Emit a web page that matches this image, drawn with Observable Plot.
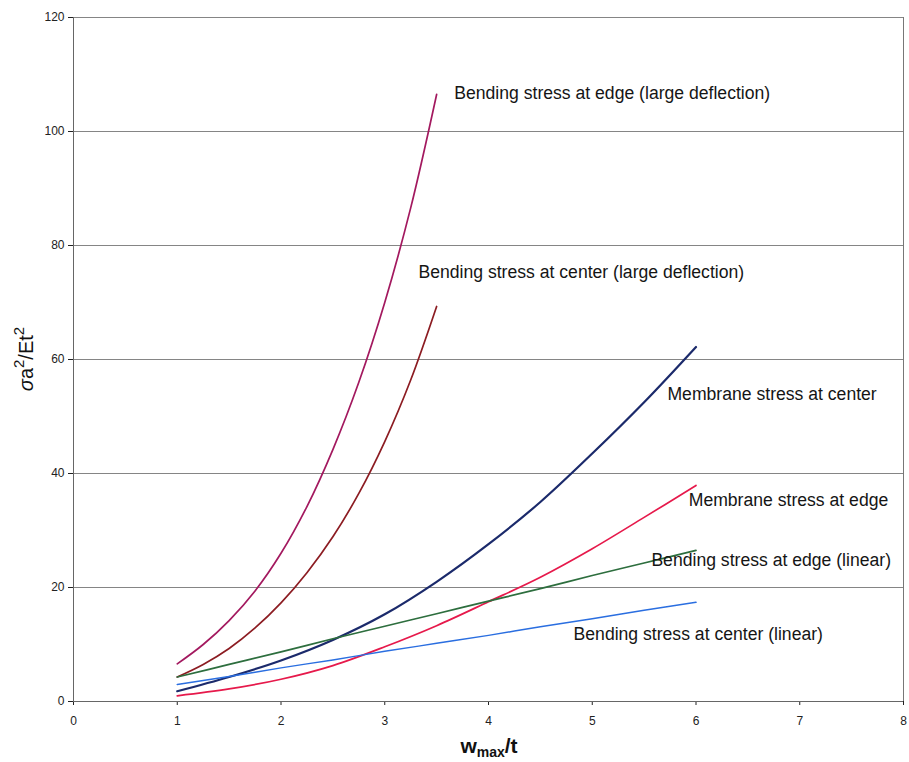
<!DOCTYPE html>
<html>
<head>
<meta charset="utf-8">
<script src="https://cdn.jsdelivr.net/npm/d3@7"></script>
<script src="https://cdn.jsdelivr.net/npm/@observablehq/plot@0.6"></script>
<style>
  html, body { margin: 0; padding: 0; background: #ffffff; }
  #chart svg { display: block; }
</style>
</head>
<body>
<div id="chart"></div>
<script>
// ---- Data ----
const xLarge = [1, 1.25, 1.5, 1.75, 2, 2.25, 2.5, 2.75, 3, 3.25, 3.5];
const bendEdgeLarge   = [6.6, 10.0, 14.2, 19.4, 26.0, 34.2, 44.2, 56.0, 70.0, 86.6, 106.5];
const bendCenterLarge = [4.3, 6.5, 9.3, 12.9, 17.3, 22.6, 28.9, 36.5, 45.6, 56.4, 69.3];

const xMembrane = [1, 1.5, 2, 2.5, 3, 3.5, 4, 4.5, 5, 5.5, 6];
const membraneCenter  = [1.8, 4.3, 7.2, 10.8, 15.3, 21.0, 27.6, 35.0, 43.5, 52.5, 62.2];
const membraneEdge    = [1.0, 2.2, 3.9, 6.3, 9.6, 13.3, 17.5, 21.8, 26.8, 32.3, 37.9];
const bendEdgeLinear  = [4.3, 6.5, 8.7, 11.0, 13.2, 15.4, 17.6, 19.8, 22.1, 24.3, 26.5];
const bendCenterLinear= [3.0, 4.4, 5.9, 7.3, 8.8, 10.2, 11.6, 13.1, 14.5, 16.0, 17.4];

const seriesNames = [
  "Bending stress at edge (large deflection)",
  "Bending stress at center (large deflection)",
  "Membrane stress at center",
  "Membrane stress at edge",
  "Bending stress at edge (linear)",
  "Bending stress at center (linear)"
];
const seriesColors = ["#a3195f", "#8c1c22", "#1b2a6b", "#e6194b", "#2d6e3e", "#2a6ee0"];

// label anchor points (data units) for the in-chart annotations
const labelX = [3.67, 3.325, 5.725, 5.93, 5.57, 4.82];
const labelY = [106.7, 75.3, 53.9, 35.3, 24.7, 11.75];

const xTicks = [0, 1, 2, 3, 4, 5, 6, 7, 8];
const yTicks = [0, 20, 40, 60, 80, 100, 120];

// ---- tidy tables ----
const seriesData = [
  {x: xLarge, y: bendEdgeLarge},
  {x: xLarge, y: bendCenterLarge},
  {x: xMembrane, y: membraneCenter},
  {x: xMembrane, y: membraneEdge},
  {x: xMembrane, y: bendEdgeLinear},
  {x: xMembrane, y: bendCenterLinear}
];
const rows = seriesData.flatMap((s, i) =>
  s.x.map((x, j) => ({series: seriesNames[i], x, y: s.y[j]})));
const labels = seriesNames.map((name, i) => ({name, x: labelX[i], y: labelY[i]}));

const widths = [1.7, 1.7, 2.2, 1.7, 1.7, 1.5];

const chart = Plot.plot({
  width: 909,
  height: 762,
  marginLeft: 73,
  marginRight: 6,
  marginTop: 17,
  marginBottom: 61,
  style: {fontFamily: "Arial, 'Liberation Sans', sans-serif", fontSize: "12px", color: "#222", background: "#ffffff"},
  x: {domain: [0, 8], ticks: xTicks, tickSize: 4, tickPadding: 11, label: null, tickFormat: d => String(d)},
  y: {domain: [0, 120], ticks: yTicks, tickSize: 5, tickPadding: 4, label: null, tickFormat: d => String(d)},
  color: {domain: seriesNames, range: seriesColors},
  marks: [
    Plot.ruleY(yTicks.filter(d => d > 0), {stroke: "#858585", strokeWidth: 1}),
    Plot.ruleX([8], {stroke: "#777", strokeWidth: 1}),
    Plot.ruleX([0], {stroke: "#666", strokeWidth: 1}),
    Plot.ruleY([0], {stroke: "#666", strokeWidth: 1}),
    ...seriesNames.map((name, i) =>
      Plot.line(rows.filter(d => d.series === name), {
        x: "x", y: "y", stroke: seriesColors[i], strokeWidth: widths[i], curve: "catmull-rom"
      })),
    Plot.text(labels, {
      x: "x", y: "y", text: "name", textAnchor: "start", lineAnchor: "middle",
      fontSize: 17.6, fill: "#151515", fontFamily: "Arial, 'Liberation Sans', sans-serif"
    })
  ]
});

document.getElementById("chart").appendChild(chart);

// axis titles with super/subscripts
const svg = d3.select(chart);
const yt = svg.append("text")
  .attr("transform", "translate(33,359) rotate(-90)")
  .attr("text-anchor", "middle")
  .attr("font-family", "Arial, 'Liberation Sans', sans-serif")
  .attr("font-size", 20)
  .attr("fill", "#111");
yt.append("tspan").attr("font-style", "italic").text("σ");
yt.append("tspan").text("a");
yt.append("tspan").attr("font-size", 15).attr("dy", -9).text("2");
yt.append("tspan").attr("dy", 9).text("/Et");
yt.append("tspan").attr("font-size", 15).attr("dy", -9).text("2");

const xt = svg.append("text")
  .attr("x", 489)
  .attr("y", 753)
  .attr("text-anchor", "middle")
  .attr("font-family", "Arial, 'Liberation Sans', sans-serif")
  .attr("font-size", 21)
  .attr("font-weight", "bold")
  .attr("fill", "#111");
xt.append("tspan").text("w");
xt.append("tspan").attr("font-size", 14).attr("dy", 4).text("max");
xt.append("tspan").attr("dy", -4).text("/t");
</script>
</body>
</html>
